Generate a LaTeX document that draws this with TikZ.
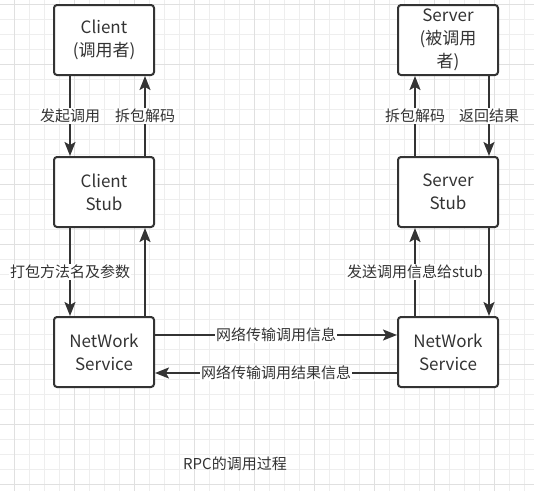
\documentclass[tikz,border=0pt]{standalone}
\usepackage{fontspec}
\setmainfont{Noto Sans CJK SC}
\usetikzlibrary{arrows.meta}
\definecolor{ink}{HTML}{333333}
\definecolor{gridminor}{HTML}{EEEEEE}
\definecolor{gridmajor}{HTML}{E0E0E0}
\begin{document}
\begin{tikzpicture}[x=1pt,y=-1pt,
  box/.style={draw=ink, line width=2pt, rounded corners=3pt, fill=white,
    minimum width=100pt, minimum height=70pt, align=center, text=ink,
    font=\fontsize{17}{23}\selectfont, inner sep=0pt},
  conn/.style={draw=ink, line width=2pt, -{Stealth[length=14pt,width=11pt,inset=3pt]}},
  lbl/.style={fill=white, text=ink, font=\fontsize{15}{18}\selectfont, inner sep=1pt},
  gminor/.style={draw=gridminor, line width=1pt},
  gmajor/.style={draw=gridmajor, line width=1pt}]
\useasboundingbox (0,0) rectangle (534,491);
\fill[white] (0,0) rectangle (534,491);
% grid
\foreach \k in {0,...,36} \draw[gminor] ({-0.5+15*\k},0) -- ({-0.5+15*\k},491);
\foreach \k in {0,...,33} \draw[gminor] (0,{4.3+15*\k}) -- (534,{4.3+15*\k});
\foreach \k in {0,...,8} \draw[gmajor] ({14.5+60*\k},0) -- ({14.5+60*\k},491);
\foreach \k in {0,...,8} \draw[gmajor] (0,{4.3+60*\k}) -- (534,{4.3+60*\k});
% boxes
\node[box] (client) at (104,40) {Client\\(调用者)};
\node[box] (cstub) at (104,192) {Client\\Stub};
\node[box] (cnet) at (104,352) {NetWork\\Service};
\node[box] (server) at (448,40) {Server\\(被调用\\者)};
\node[box] (sstub) at (448,192) {Server\\Stub};
\node[box] (snet) at (448,352) {NetWork\\Service};
% client side
\draw[conn] ([xshift=-34pt]client.south) -- node[lbl]{发起调用} ([xshift=-34pt]cstub.north);
\draw[conn] ([xshift=41pt]cstub.north) -- node[lbl]{拆包解码} ([xshift=41pt]client.south);
\draw[conn] ([xshift=-34pt]cstub.south) -- node[lbl]{打包方法名及参数} ([xshift=-34pt]cnet.north);
\draw[conn] ([xshift=41pt]cnet.north) -- ([xshift=41pt]cstub.south);
% server side
\draw[conn] ([xshift=-33pt]sstub.north) -- node[lbl]{拆包解码} ([xshift=-33pt]server.south);
\draw[conn] ([xshift=41pt]server.south) -- node[lbl]{返回结果} ([xshift=41pt]sstub.north);
\draw[conn] ([xshift=-33pt]snet.north) -- node[lbl]{发送调用信息给stub} ([xshift=-33pt]sstub.south);
\draw[conn] ([xshift=41pt]sstub.south) -- ([xshift=41pt]snet.north);
% network
\draw[conn] ([yshift=17pt]cnet.east) -- node[lbl]{网络传输调用信息} ([yshift=17pt]snet.west);
\draw[conn] ([yshift=-21pt]snet.west) -- node[lbl]{网络传输调用结果信息} ([yshift=-21pt]cnet.east);
% caption
\node[text=ink, font=\fontsize{15}{18}\selectfont] (cap) at (235,464) {RPC的调用过程};
\end{tikzpicture}
\end{document}
